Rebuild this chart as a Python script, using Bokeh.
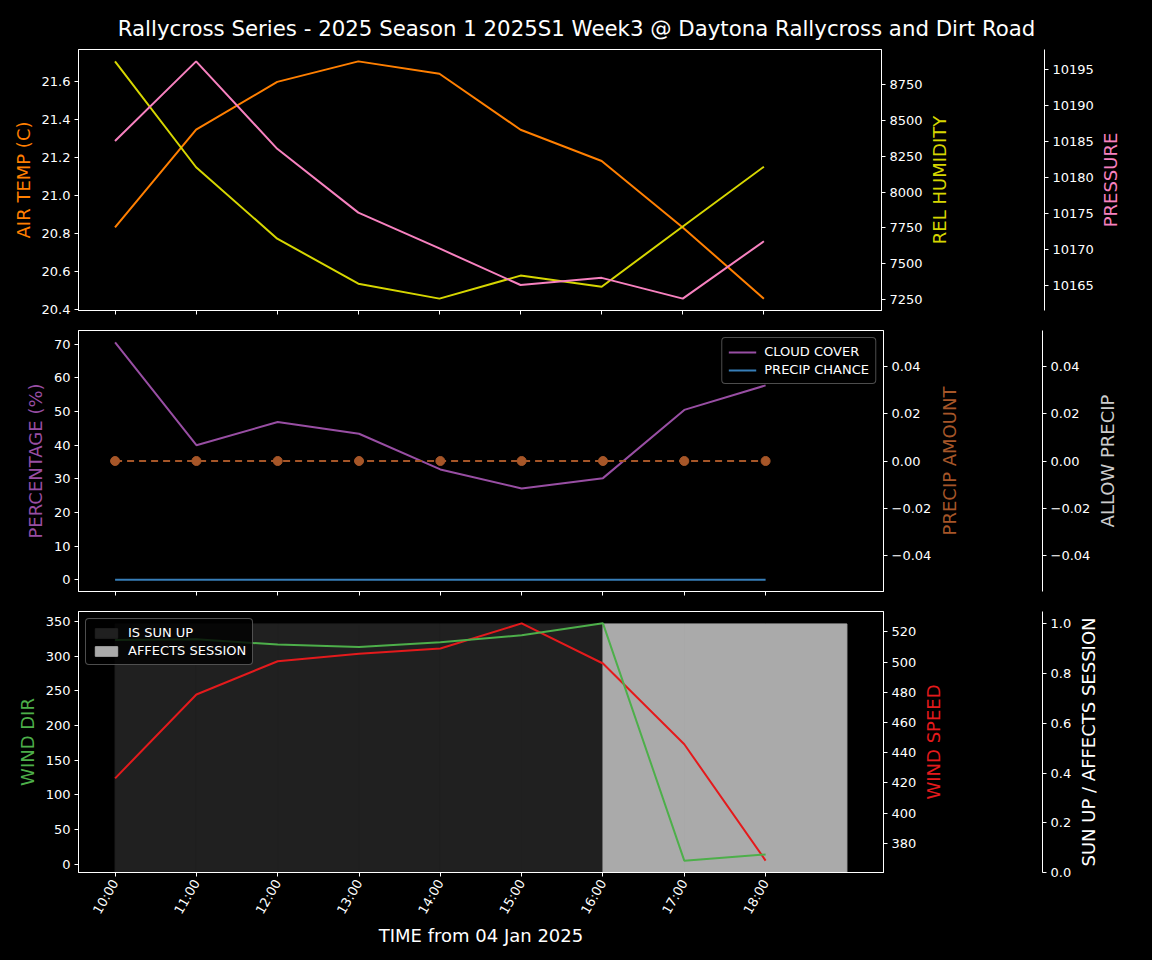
import math
import numpy as np
import pandas as pd
from bokeh.plotting import figure
from bokeh.layouts import column, row
from bokeh.models import (Range1d, LinearAxis, FixedTicker, SingleIntervalTicker,
                          DatetimeTickFormatter, PrintfTickFormatter, Legend, LegendItem,
                          ColumnDataSource, GlobalInlineStyleSheet, CustomLabelingPolicy)
from bokeh.embed import file_html
from bokeh.resources import INLINE

# ---------------- data ----------------
TITLE = "Rallycross Series - 2025 Season 1 2025S1 Week3 @ Daytona Rallycross and Dirt Road"
times = pd.date_range("2025-01-04 10:00", periods=9, freq="h")
hour_labels = ["10:00", "11:00", "12:00", "13:00", "14:00", "15:00", "16:00", "17:00", "18:00"]
air_temp = [20.83, 21.345, 21.597, 21.705, 21.64, 21.345, 21.18, 20.83, 20.455]
rel_humidity = [8908, 8172, 7676, 7363, 7259, 7419, 7342, 7760, 8176]
pressure = [10185.1, 10196.2, 10184.0, 10175.1, 10170.1, 10165.0, 10166.0, 10163.1, 10171.1]
cloud_cover = [70.6, 40.0, 46.9, 43.4, 32.8, 27.1, 30.2, 50.5, 57.8]
precip_chance = [0, 0, 0, 0, 0, 0, 0, 0, 0]
precip_amount = [0.0, 0.0, 0.0, 0.0, 0.0, 0.0, 0.0, 0.0, 0.0]
allow_precip = [0, 0, 0, 0, 0, 0, 0, 0, 0]
wind_dir = [323.3, 324.2, 316.5, 313.0, 320.0, 330.0, 347.1, 5.5, 14.5]
wind_speed = [423.0, 478.6, 500.6, 505.5, 509.0, 525.7, 499.1, 445.6, 368.5]
is_sun_up = [1, 1, 1, 1, 1, 1, 0, 0, 0]
affects_session = [0, 0, 0, 0, 0, 0, 1, 1, 1]
precip_ticks = [-0.04, -0.02, 0.0, 0.02, 0.04]
precip_tick_labels = ["\u22120.04", "\u22120.02", "0.00", "0.02", "0.04"]

# ---------------- helpers ----------------
FONT = "DejaVu Sans"
HOUR_MS = 3600 * 1000
FRAME_W = 805
OUTER_AXIS_X = 1045        # position of the outermost (third) axis spine
t_ms = times.values.astype("datetime64[ms]").astype("int64").astype(float)

C_TEMP = "#ff7f00"
C_HUM = "#d6d600"
C_PRES = "#f781bf"
C_CLOUD = "#984ea3"
C_PCH = "#377eb8"
C_PAMT = "#a65628"
C_ALLOW = "#cccccc"
C_WDIR = "#4daf4a"
C_WSPD = "#e41a1c"
C_SUN = "#202020"
C_AFF = "#aaaaaa"

HIDE_LABELS = CustomLabelingPolicy(code="""
try { for (const i of Array.from(indices)) { indices.unset(i) } } catch (e) {}
return indices
""")


def padded(vals, margin=0.05):
    lo, hi = float(min(vals)), float(max(vals))
    if hi == lo:
        d = 0.05 * abs(lo) if lo != 0 else 0.05
        lo, hi = lo - d, hi + d
    span = hi - lo
    return Range1d(lo - margin * span, hi + margin * span)


x_lo = t_ms[0]
x_hi = t_ms[-1] + HOUR_MS
x_pad = 0.05 * (x_hi - x_lo)
x_range = Range1d(x_lo - x_pad, x_hi + x_pad)

src = ColumnDataSource(dict(
    t=t_ms, right=t_ms + HOUR_MS, air=air_temp, hum=rel_humidity, pres=pressure,
    cloud=cloud_cover, pch=precip_chance, pamt=precip_amount, allow=allow_precip,
    wdir=wind_dir, wspd=wind_speed, sun=is_sun_up, aff=affects_session,
))


def style_axis(ax, label=None, color="white"):
    ax.axis_line_color = "white"
    ax.major_tick_line_color = "white"
    ax.minor_tick_line_color = None
    ax.major_tick_out = 4
    ax.major_tick_in = 0
    ax.major_label_text_color = "white"
    ax.major_label_text_font = FONT
    ax.major_label_text_font_size = "13px"
    ax.major_label_standoff = 4
    if label:
        ax.axis_label = label
        ax.axis_label_text_color = color
        ax.axis_label_text_font = FONT
        ax.axis_label_text_font_size = "18px"
        ax.axis_label_text_font_style = "normal"
        ax.axis_label_standoff = 5


def main_fig(width, height, top, bottom, y_range, show_x_labels):
    p = figure(width=width, height=height, x_axis_type="datetime", x_range=x_range,
               y_range=y_range, output_backend="svg", toolbar_location=None,
               min_border_left=78, min_border_right=width - 78 - FRAME_W,
               min_border_top=top, min_border_bottom=bottom,
               background_fill_color="black", border_fill_color="black",
               outline_line_color="white")
    p.xgrid.visible = False
    p.ygrid.visible = False
    xa = p.xaxis[0]
    xa.ticker = FixedTicker(ticks=list(t_ms))
    xa.formatter = DatetimeTickFormatter(hours="%H:%M", hourmin="%H:%M", minutes="%H:%M",
                                         minsec="%H:%M", seconds="%H:%M", days="%H:%M")
    style_axis(xa)
    if show_x_labels:
        xa.major_label_overrides = {float(t): lab for t, lab in zip(t_ms, hour_labels)}
    else:
        xa.major_label_overrides = {float(t): "" for t in t_ms}
        xa.major_label_text_font_size = "1px"
        xa.major_label_standoff = 0
        xa.major_label_policy = HIDE_LABELS
    return p


def side_fig(width, height, top, bottom, y_range, label, color, right_axis=None,
             right_border=0):
    """A narrow figure that carries an axis title (reading bottom-to-top) and,
    optionally, a further offset y axis on its right edge."""
    p = figure(width=width, height=height, x_range=Range1d(0, 1), y_range=y_range,
               x_axis_location=None, y_axis_location=None, output_backend="svg",
               toolbar_location=None, min_border_left=0, min_border_right=right_border,
               min_border_top=top, min_border_bottom=bottom,
               background_fill_color="black", border_fill_color="black",
               outline_line_color=None)
    p.grid.visible = False
    lab = LinearAxis(ticker=FixedTicker(ticks=[]))
    lab.axis_line_color = None
    lab.major_tick_line_color = None
    lab.minor_tick_line_color = None
    lab.major_tick_out = 0
    lab.major_tick_in = 0
    lab.major_label_standoff = 0
    lab.axis_label = label
    lab.axis_label_text_color = color
    lab.axis_label_text_font = FONT
    lab.axis_label_text_font_size = "18px"
    lab.axis_label_text_font_style = "normal"
    lab.axis_label_standoff = 0
    p.add_layout(lab, "left")
    if right_axis is not None:
        p.add_layout(right_axis, "right")
    return p


def panel_row(main, height, top, bottom, first_range, first_label, first_color,
              outer_range, outer_axis, outer_border, outer_label, outer_color):
    mid_w = OUTER_AXIS_X - main.width + outer_border
    mid = side_fig(mid_w, height, top, bottom, outer_range, first_label, first_color,
                   right_axis=outer_axis, right_border=outer_border)
    last = side_fig(30, height, top, bottom, outer_range, outer_label, outer_color)
    return row(main, mid, last)


# ---------------- title ----------------
p0 = figure(width=1152, height=49, x_range=Range1d(0, 1), y_range=Range1d(0, 1),
            x_axis_location=None, y_axis_location=None, output_backend="svg",
            toolbar_location=None, min_border_left=0, min_border_right=0,
            min_border_top=46, min_border_bottom=0, background_fill_color="black",
            border_fill_color="black", outline_line_color=None)
p0.grid.visible = False
p0.title.text = TITLE
p0.title.align = "center"
p0.title.standoff = 12
p0.title.text_font = FONT
p0.title.text_font_size = "21.3px"
p0.title.text_font_style = "normal"
p0.title.text_color = "white"

# ---------------- top panel ----------------
H1, T1, B1 = 271, 0, 10
p1 = main_fig(925, H1, T1, B1, padded(air_temp), False)
hum_range = padded(rel_humidity)
pres_range = padded(pressure)
p1.extra_y_ranges = {"hum": hum_range, "pres": pres_range}
p1.yaxis[0].ticker = SingleIntervalTicker(interval=0.2)
p1.yaxis[0].formatter = PrintfTickFormatter(format="%.1f")
style_axis(p1.yaxis[0], "AIR TEMP (C)", C_TEMP)

ax_hum = LinearAxis(y_range_name="hum", ticker=SingleIntervalTicker(interval=250))
style_axis(ax_hum)
p1.add_layout(ax_hum, "right")

p1.line("t", "air", source=src, color=C_TEMP, line_width=2)
p1.line("t", "hum", source=src, color=C_HUM, line_width=2, y_range_name="hum")
p1.line("t", "pres", source=src, color=C_PRES, line_width=2, y_range_name="pres")

ax_pres = LinearAxis(ticker=SingleIntervalTicker(interval=5))
style_axis(ax_pres)
row1 = panel_row(p1, H1, T1, B1, hum_range, "REL HUMIDITY", C_HUM,
                 pres_range, ax_pres, 51, "PRESSURE", C_PRES)

# ---------------- middle panel ----------------
H2, T2, B2 = 281, 10, 10
p2 = main_fig(935, H2, T2, B2, padded(cloud_cover + precip_chance), False)
pamt_range = padded(precip_amount)
allow_range = padded(allow_precip)
p2.extra_y_ranges = {"pamt": pamt_range}
p2.yaxis[0].ticker = SingleIntervalTicker(interval=10)
style_axis(p2.yaxis[0], "PERCENTAGE (%)", C_CLOUD)

ax_pamt = LinearAxis(y_range_name="pamt", ticker=FixedTicker(ticks=precip_ticks))
ax_pamt.major_label_overrides = dict(zip(precip_ticks, precip_tick_labels))
style_axis(ax_pamt)
p2.add_layout(ax_pamt, "right")

r_cloud = p2.line("t", "cloud", source=src, color=C_CLOUD, line_width=2)
r_pch = p2.line("t", "pch", source=src, color=C_PCH, line_width=2)
p2.line("t", "pamt", source=src, color=C_PAMT, line_width=2, line_dash="7 5",
        y_range_name="pamt")
p2.scatter("t", "pamt", source=src, color=C_PAMT, size=9, y_range_name="pamt")

leg2 = Legend(items=[LegendItem(label="CLOUD COVER", renderers=[r_cloud]),
                     LegendItem(label="PRECIP CHANCE", renderers=[r_pch])],
              location="top_right")
p2.add_layout(leg2)

ax_allow = LinearAxis(ticker=FixedTicker(ticks=precip_ticks))
ax_allow.major_label_overrides = dict(zip(precip_ticks, precip_tick_labels))
style_axis(ax_allow)
row2 = panel_row(p2, H2, T2, B2, pamt_range, "PRECIP AMOUNT", C_PAMT,
                 allow_range, ax_allow, 48, "ALLOW PRECIP", C_ALLOW)

# ---------------- bottom panel ----------------
H3, T3, B3 = 359, 10, 88
p3 = main_fig(919, H3, T3, B3, padded(wind_dir), True)
wspd_range = padded(wind_speed)
sun_range = Range1d(0, 1.05 * max(is_sun_up + affects_session))
p3.extra_y_ranges = {"wspd": wspd_range, "sun": sun_range}
p3.yaxis[0].ticker = SingleIntervalTicker(interval=50)
style_axis(p3.yaxis[0], "WIND DIR", C_WDIR)
xa3 = p3.xaxis[0]
xa3.major_label_orientation = math.pi / 3
xa3.axis_label = "TIME from 04 Jan 2025"
xa3.axis_label_text_color = "white"
xa3.axis_label_text_font = FONT
xa3.axis_label_text_font_size = "18px"
xa3.axis_label_text_font_style = "normal"
xa3.axis_label_standoff = 2

ax_wspd = LinearAxis(y_range_name="wspd", ticker=SingleIntervalTicker(interval=20))
style_axis(ax_wspd)
p3.add_layout(ax_wspd, "right")

r_sun = p3.quad(left="t", right="right", bottom=0, top="sun", source=src,
                fill_color=C_SUN, line_color=C_SUN, line_width=1, y_range_name="sun")
r_aff = p3.quad(left="t", right="right", bottom=0, top="aff", source=src,
                fill_color=C_AFF, line_color=C_AFF, line_width=1, y_range_name="sun")
p3.line("t", "wspd", source=src, color=C_WSPD, line_width=2, y_range_name="wspd")
p3.line("t", "wdir", source=src, color=C_WDIR, line_width=2)

leg3 = Legend(items=[LegendItem(label="IS SUN UP", renderers=[r_sun]),
                     LegendItem(label="AFFECTS SESSION", renderers=[r_aff])],
              location="top_left")
p3.add_layout(leg3)

ax_sun = LinearAxis(ticker=SingleIntervalTicker(interval=0.2),
                    formatter=PrintfTickFormatter(format="%.1f"))
style_axis(ax_sun)
row3 = panel_row(p3, H3, T3, B3, wspd_range, "WIND SPEED", C_WSPD,
                 sun_range, ax_sun, 29, "SUN UP / AFFECTS SESSION", "white")

for lg in (leg2, leg3):
    lg.background_fill_color = "black"
    lg.background_fill_alpha = 0.8
    lg.border_line_color = "#999999"
    lg.border_line_width = 1
    lg.label_text_color = "white"
    lg.label_text_font = FONT
    lg.label_text_font_size = "13px"
    lg.glyph_width = 28
    lg.glyph_height = 12
    lg.label_height = 15
    lg.spacing = 3
    lg.padding = 6
    lg.margin = 7
    lg.label_standoff = 8
    if hasattr(lg, "border_radius"):
        try:
            lg.border_radius = 4
        except Exception:
            pass

layout = column(p0, row1, row2, row3,
                stylesheets=[GlobalInlineStyleSheet(css="body { background-color: #000000; }")])

open("out.html", "w").write(file_html(layout, INLINE))
